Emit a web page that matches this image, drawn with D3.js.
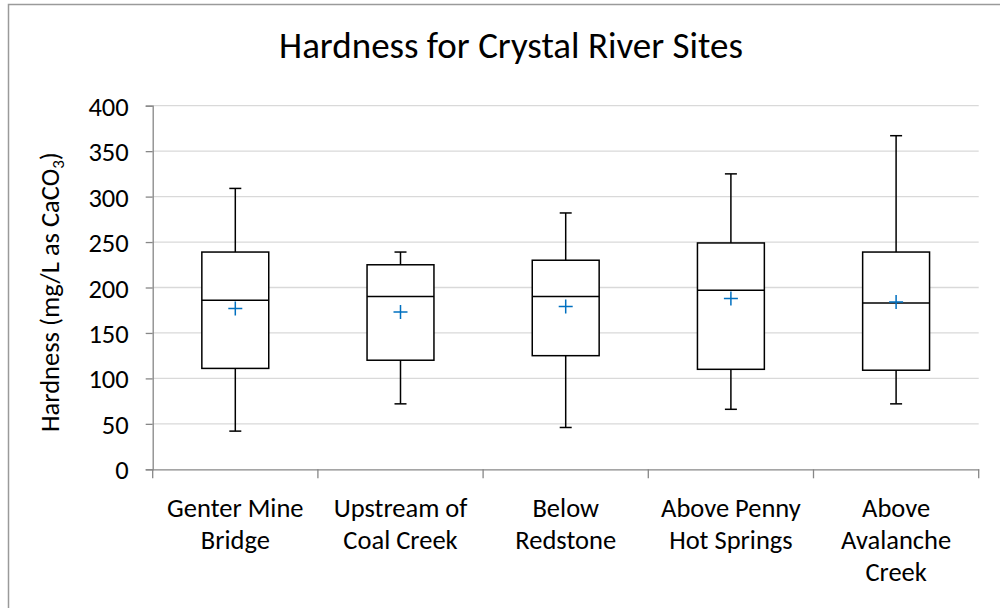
<!DOCTYPE html>
<html>
<head>
<meta charset="utf-8">
<script src="https://cdn.jsdelivr.net/npm/d3@7"></script>
<style>
  body { margin: 0; background: #fff; }
  text { font-family: Carlito, Calibri, Lato, sans-serif; fill: #000; }
</style>
</head>
<body>
<div id="chart"></div>
<script>
// values (mg/L as CaCO3)
var sites = ["Genter Mine Bridge", "Upstream of Coal Creek", "Below Redstone", "Above Penny Hot Springs", "Above Avalanche Creek"];
var siteLines = [["Genter Mine", "Bridge"], ["Upstream of", "Coal Creek"], ["Below", "Redstone"], ["Above Penny", "Hot Springs"], ["Above", "Avalanche", "Creek"]];
var minVals    = [42, 72, 46, 66, 72];
var q1Vals     = [111, 120, 125, 110, 109];
var medianVals = [186, 190, 190, 197, 183];
var q3Vals     = [239, 225, 230, 249, 239];
var maxVals    = [309, 239, 282, 325, 367];
var meanVals   = [177, 173, 179, 188, 184];
var yTicks     = [0, 50, 100, 150, 200, 250, 300, 350, 400];

var width = 1000,
    height = 608;

var svg = d3.select("#chart").append("svg")
    .attr("width", width)
    .attr("height", height);

// chart border
svg.append("rect")
    .attr("x", 8.5).attr("y", 4.5)
    .attr("width", 1010).attr("height", 620)
    .attr("fill", "#fff")
    .attr("stroke", "#9a9a9a")
    .attr("stroke-width", 1.5);

var x = d3.scaleBand()
    .domain(sites)
    .range([152.7, 978.7])
    .padding(0);

var y = d3.scaleLinear()
    .domain([0, 400])
    .range([469.3, 105.7]);

// gridlines
svg.append("g").selectAll("line")
    .data(yTicks.filter(function(d) { return d > 0; }))
  .enter().append("line")
    .attr("x1", 152.7).attr("x2", 978.7)
    .attr("y1", function(d) { return y(d); })
    .attr("y2", function(d) { return y(d); })
    .attr("stroke", "#d9d9d9")
    .attr("stroke-width", 1.3);

// y axis
var yAxis = svg.append("g")
    .attr("transform", "translate(152.7,0)")
    .call(d3.axisLeft(y).tickValues(yTicks).tickSize(7).tickPadding(17));
yAxis.selectAll("path, line").attr("stroke", "#878787").attr("stroke-width", 1.3);
yAxis.selectAll("text")
    .style("font-size", "26.5px")
    .attr("dy", "0.36em");

// x axis
var xAxis = svg.append("g")
    .attr("transform", "translate(0," + y(0) + ")")
    .call(d3.axisBottom(x).tickSize(0).tickPadding(0));
xAxis.select(".domain").attr("stroke", "#878787").attr("stroke-width", 1.3);
var edges = sites.map(function(s) { return x(s); }).concat([x(sites[sites.length - 1]) + x.bandwidth()]);
xAxis.selectAll(".edge").data(edges)
  .enter().append("line")
    .attr("class", "edge")
    .attr("x1", function(d) { return d; }).attr("x2", function(d) { return d; })
    .attr("y1", 0).attr("y2", 9)
    .attr("stroke", "#878787").attr("stroke-width", 1.3);
xAxis.selectAll(".tick text").each(function(d, i) {
  var t = d3.select(this).text(null).attr("y", 0).attr("dy", null).style("font-size", "26.5px");
  siteLines[i].forEach(function(line, j) {
    t.append("tspan").attr("x", 0).attr("y", 48 + j * 32).text(line);
  });
});

// boxes
var bw = x.bandwidth() * 0.405,
    cap = 12;
var boxes = svg.append("g").selectAll("g")
    .data(sites)
  .enter().append("g")
    .attr("transform", function(d) { return "translate(" + (x(d) + x.bandwidth() / 2) + ",0)"; });

boxes.append("line")
    .attr("x1", 0).attr("x2", 0)
    .attr("y1", function(d, i) { return y(maxVals[i]); })
    .attr("y2", function(d, i) { return y(minVals[i]); })
    .attr("stroke", "#000").attr("stroke-width", 1.5);
boxes.append("line")
    .attr("x1", -cap / 2).attr("x2", cap / 2)
    .attr("y1", function(d, i) { return y(maxVals[i]); })
    .attr("y2", function(d, i) { return y(maxVals[i]); })
    .attr("stroke", "#000").attr("stroke-width", 1.5);
boxes.append("line")
    .attr("x1", -cap / 2).attr("x2", cap / 2)
    .attr("y1", function(d, i) { return y(minVals[i]); })
    .attr("y2", function(d, i) { return y(minVals[i]); })
    .attr("stroke", "#000").attr("stroke-width", 1.5);
boxes.append("rect")
    .attr("x", -bw / 2)
    .attr("width", bw)
    .attr("y", function(d, i) { return y(q3Vals[i]); })
    .attr("height", function(d, i) { return y(q1Vals[i]) - y(q3Vals[i]); })
    .attr("fill", "#fff")
    .attr("stroke", "#000").attr("stroke-width", 1.5);
boxes.append("line")
    .attr("x1", -bw / 2).attr("x2", bw / 2)
    .attr("y1", function(d, i) { return y(medianVals[i]); })
    .attr("y2", function(d, i) { return y(medianVals[i]); })
    .attr("stroke", "#000").attr("stroke-width", 1.5);

// mean markers
boxes.append("path")
    .attr("d", function(d, i) {
      var m = y(meanVals[i]);
      return "M-7," + m + "H7M0," + (m - 7) + "V" + (m + 7);
    })
    .attr("stroke", "#0070c0").attr("stroke-width", 1.5).attr("fill", "none");

// title
svg.append("text")
    .attr("x", 511).attr("y", 58)
    .attr("text-anchor", "middle")
    .style("font-size", "37px")
    .text("Hardness for Crystal River Sites");

// y label
var yl = svg.append("text")
    .attr("transform", "translate(59,292) rotate(-90)")
    .attr("text-anchor", "middle")
    .style("font-size", "26.5px")
    .text("Hardness (mg/L as CaCO");
yl.append("tspan").attr("dy", 5).style("font-size", "17px").text("3");
yl.append("tspan").attr("dy", -5).text(")");
</script>
</body>
</html>
